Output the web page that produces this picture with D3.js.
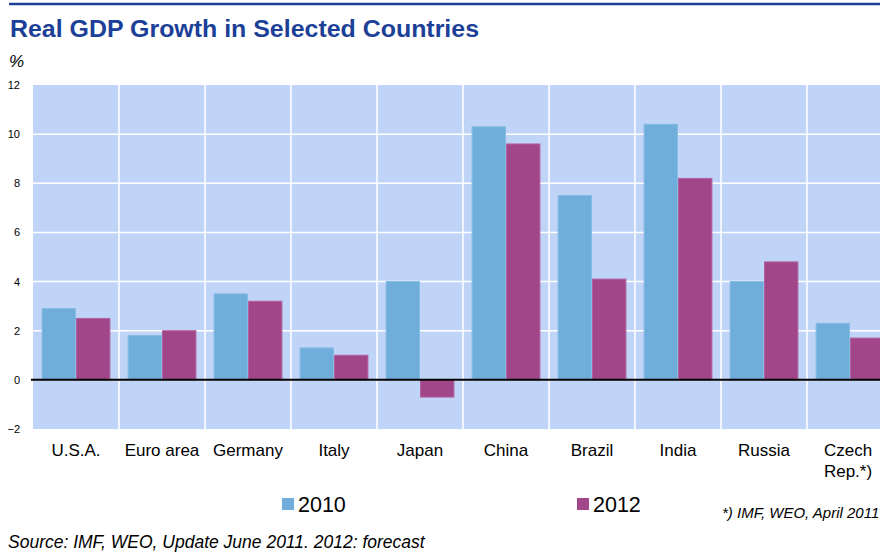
<!DOCTYPE html>
<html>
<head>
<meta charset="utf-8">
<script src="https://cdn.jsdelivr.net/npm/d3@7"></script>
<style>
  body { margin: 0; background: #fff; }
  svg { display: block; font-family: Arial, 'Liberation Sans', sans-serif; }
</style>
</head>
<body>
<div id="chart"></div>
<script>
// Real GDP growth, % (2012 = forecast)
const countries = ['U.S.A.', 'Euro area', 'Germany', 'Italy', 'Japan', 'China', 'Brazil', 'India', 'Russia', 'Czech\nRep.*)'];
const years = ['2010', '2012'];
const growth2010 = [2.9, 1.8, 3.5, 1.3, 4.0, 10.3, 7.5, 10.4, 4.0, 2.3];
const growth2012 = [2.5, 2.0, 3.2, 1.0, -0.7, 9.6, 4.1, 8.2, 4.8, 1.7];
const yTicks = [-2, 0, 2, 4, 6, 8, 10, 12];

const svgWidth = 880;
const svgHeight = 553;

// plot area (right side runs off the page like the original)
let plot = { left: 33, right: 893, top: 85, bottom: 429 };

let svg = d3.select('#chart')
  .append('svg')
  .attr('width', svgWidth)
  .attr('height', svgHeight);

// rows built from the arrays
let rows = countries.map((c, i) => ({ country: c, values: [growth2010[i], growth2012[i]] }));

let x0 = d3.scaleBand()
  .domain(countries)
  .range([plot.left, plot.right])
  .padding(0);

let x1 = d3.scaleBand()
  .domain(years)
  .range([0, x0.bandwidth()])
  .paddingInner(0)
  .paddingOuter(0.25);

let y = d3.scaleLinear()
  .domain([-2, 12])
  .range([plot.bottom, plot.top]);

let color = d3.scaleOrdinal().domain(years).range(['#6fadda', '#a2468a']);
let edge = d3.scaleOrdinal().domain(years).range(['#86bbe3', '#b25f9d']);

// top rule + title
svg.append('line')
  .attr('x1', 9).attr('x2', svgWidth)
  .attr('y1', 4).attr('y2', 4)
  .attr('stroke', '#1c3f97')
  .attr('stroke-width', 2.5);

svg.append('text')
  .attr('x', 10).attr('y', 37)
  .attr('font-size', '23.5px')
  .attr('font-weight', 'bold')
  .attr('fill', '#1c3f97')
  .attr('textLength', 469)
  .attr('lengthAdjust', 'spacingAndGlyphs')
  .text('Real GDP Growth in Selected Countries');

svg.append('text')
  .attr('x', 9).attr('y', 67)
  .attr('font-size', '17px')
  .attr('font-style', 'italic')
  .text('%');

// plot background
svg.append('rect')
  .attr('x', plot.left).attr('y', plot.top)
  .attr('width', plot.right - plot.left)
  .attr('height', plot.bottom - plot.top)
  .attr('fill', '#c0d4f8');

// horizontal gridlines
svg.append('g')
  .selectAll('line')
  .data(yTicks.filter(t => t > -2 && t < 12))
  .enter()
  .append('line')
  .attr('x1', plot.left).attr('x2', plot.right)
  .attr('y1', d => y(d)).attr('y2', d => y(d))
  .attr('stroke', '#fff')
  .attr('stroke-width', 1.5);

// vertical gridlines at category boundaries
svg.append('g')
  .selectAll('line')
  .data(countries.slice(1))
  .enter()
  .append('line')
  .attr('x1', d => x0(d)).attr('x2', d => x0(d))
  .attr('y1', plot.top).attr('y2', plot.bottom)
  .attr('stroke', '#fff')
  .attr('stroke-width', 1.5);

// bars
let groups = svg.append('g')
  .selectAll('g')
  .data(rows)
  .enter()
  .append('g')
  .attr('transform', d => `translate(${x0(d.country)},0)`);

groups.selectAll('rect')
  .data(d => d.values.map((v, i) => ({ year: years[i], value: v })))
  .enter()
  .append('rect')
  .attr('x', d => x1(d.year) + 0.5)
  .attr('y', d => y(Math.max(0, d.value)))
  .attr('width', x1.bandwidth() - 1)
  .attr('height', d => Math.abs(y(d.value) - y(0)))
  .attr('fill', d => color(d.year))
  .attr('stroke', d => edge(d.year))
  .attr('stroke-width', 1);

// zero line
svg.append('line')
  .attr('x1', 31).attr('x2', svgWidth)
  .attr('y1', y(0)).attr('y2', y(0))
  .attr('stroke', '#000')
  .attr('stroke-width', 2);

// y tick labels
let yAxis = d3.axisLeft(y).tickValues(yTicks).tickSize(0).tickPadding(0);
let yAxisG = svg.append('g')
  .attr('transform', 'translate(20,0)')
  .call(yAxis);
yAxisG.select('.domain').remove();
yAxisG.selectAll('text')
  .attr('font-size', '11px')
  .attr('font-family', 'Arial, Liberation Sans, sans-serif')
  .attr('fill', '#000');

// category labels (split on newline)
let catLabels = svg.append('g')
  .selectAll('text')
  .data(countries)
  .enter()
  .append('text')
  .attr('text-anchor', 'middle')
  .attr('font-size', '17px')
  .attr('x', d => Math.min(x0(d) + x0.bandwidth() / 2, 848))
  .attr('y', 456);

catLabels.selectAll('tspan')
  .data(d => d.split('\n'))
  .enter()
  .append('tspan')
  .attr('x', function() { return d3.select(this.parentNode).attr('x'); })
  .attr('dy', (d, i) => i === 0 ? 0 : 21)
  .text(d => d);

// legend
let legendX = [282, 577];
let legend = svg.append('g')
  .selectAll('g')
  .data(years)
  .enter()
  .append('g')
  .attr('transform', (d, i) => `translate(${legendX[i]},498)`);

legend.append('rect')
  .attr('width', 12).attr('height', 12)
  .attr('fill', d => color(d));

legend.append('text')
  .attr('x', 16).attr('y', 13.5)
  .attr('font-size', '21.5px')
  .text(d => d);

// notes
svg.append('text')
  .attr('x', 722).attr('y', 518)
  .attr('font-size', '15px')
  .attr('font-style', 'italic')
  .text('*) IMF, WEO, April 2011');

svg.append('text')
  .attr('x', 8).attr('y', 548)
  .attr('font-size', '17.5px')
  .attr('font-style', 'italic')
  .text('Source: IMF, WEO, Update June 2011. 2012: forecast');
</script>
</body>
</html>
